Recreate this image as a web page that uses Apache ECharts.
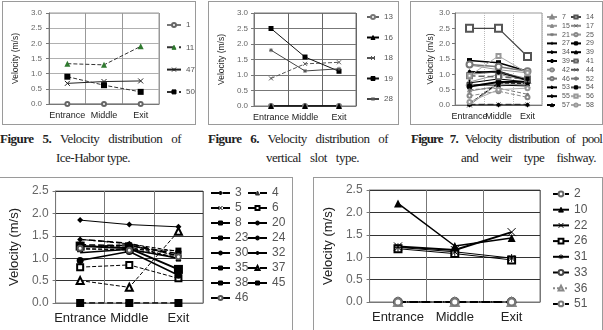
<!DOCTYPE html>
<html>
<head>
<meta charset="utf-8">
<script src="https://cdn.jsdelivr.net/npm/echarts@6/dist/echarts.min.js"></script>
<style>
    html, body {
        margin: 0;
        width: 603px;
        height: 330px;
        overflow: hidden;
        background: #fff;
    }
    .box {
        position: absolute;
        box-sizing: border-box;
        border: 1px solid #9a9a9a;
    }
    .chart {
        position: absolute;
        left: 0; top: 0; right: 0; bottom: 0;
    }
    .cap {
        position: absolute;
        font-family: "Liberation Serif", serif;
        font-size: 13px;
        line-height: 14px;
        letter-spacing: -0.5px;
        color: #222;
        white-space: nowrap;
        text-align: justify;
        text-align-last: justify;
    }
    .cap b { font-weight: bold; }
</style>
</head>
<body>
<div class="box" style="left:2px;top:1px;width:194px;height:124px"><div id="c1" class="chart"></div></div>
<div class="box" style="left:208px;top:1px;width:191px;height:124px"><div id="c2" class="chart"></div></div>
<div class="box" style="left:410px;top:1px;width:193px;height:124px"><div id="c3" class="chart"></div></div>
<div class="box" style="left:-1px;top:177px;width:294px;height:170px"><div id="c4" class="chart"></div></div>
<div class="box" style="left:313px;top:177px;width:290px;height:170px"><div id="c5" class="chart"></div></div>

<div class="cap" style="left:0px;top:132px;width:181px"><b>Figure 5.</b> Velocity distribution of</div>
<div class="cap" style="left:56px;top:151px;width:72px">Ice-Habor type.</div>
<div class="cap" style="left:208px;top:132px;width:180px"><b>Figure 6.</b> Velocity distribution of</div>
<div class="cap" style="left:266px;top:151px;width:93px">vertical slot type.</div>
<div class="cap" style="left:411px;top:132px;width:191px;letter-spacing:-0.8px"><b>Figure 7.</b> Velocity distribution of pool</div>
<div class="cap" style="left:461px;top:151px;width:135px">and weir type fishway.</div>

<script>
var categories = ['Entrance', 'Middle', 'Exit'];

var c1Names = ['1', '11', '47', '50'];
var c1Values = [
    [0, 0, 0],
    [1.33, 1.29, 1.90],
    [0.68, 0.74, 0.76],
    [0.90, 0.62, 0.40]
];

var c2Names = ['13', '16', '18', '19', '28'];
var c2Values = [
    [0, 0, 0],
    [0, 0, 0],
    [0.89, 1.36, 1.41],
    [2.50, 1.58, 1.12],
    [1.80, 1.13, 1.20]
];

// the picture lists "39" twice, the second one carries a trailing space
var c3Names = ['7', '14', '15', '17', '21', '25', '27', '29', '34', '39', '39 ',
    '41', '42', '44', '46', '52', '53', '54', '55', '56', '57', '58'];
var c3Values = [
    [0.75, 1.00, 0.80],
    [2.50, 2.50, 1.58],
    [0.62, 0.75, 0.70],
    [0.00, 0.70, 0.65],
    [0.45, 0.62, 0.68],
    [1.30, 1.15, 1.05],
    [0.72, 0.85, 0.75],
    [1.45, 1.38, 1.10],
    [1.05, 1.10, 0.80],
    [0.65, 0.65, 0.62],
    [0.60, 0.75, 0.76],
    [0.95, 0.92, 0.85],
    [0.30, 0.45, 0.25],
    [0.02, 0.02, 0.02],
    [1.32, 1.25, 1.10],
    [0.50, 0.55, 0.35],
    [1.10, 1.05, 0.82],
    [1.00, 1.08, 0.86],
    [0.00, 0.00, 0.00],
    [0.95, 1.60, 1.05],
    [0.05, 0.72, 0.70],
    [0.10, 0.50, 0.55]
];

var c4Names = ['3', '4', '5', '6', '8', '20', '23', '24', '30', '32', '35', '37', '38', '45', '46'];
var c4Values = [
    [1.42, 1.32, 1.15],
    [1.25, 1.30, 1.05],
    [1.27, 1.25, 1.00],
    [0.80, 0.85, 0.55],
    [1.20, 1.20, 1.17],
    [0.95, 1.15, 0.62],
    [1.30, 1.28, 1.10],
    [1.42, 1.33, 1.05],
    [1.12, 1.20, 1.00],
    [1.85, 1.75, 1.70],
    [1.27, 1.22, 0.75],
    [0.50, 0.35, 1.60],
    [1.25, 1.30, 0.98],
    [0, 0, 0],
    [1.22, 1.18, 1.03]
];

var c5Names = ['2', '10', '22', '26', '31', '33', '36', '51'];
var c5Values = [
    [0, 0, 0],
    [2.20, 1.25, 1.43],
    [1.24, 1.16, 1.56],
    [1.19, 1.08, 0.94],
    [1.22, 1.12, 0.98],
    [0, 0, 0],
    [0, 0, 0],
    [0, 0, 0]
];

var X = 'path://M0,0L10,10M10,0L0,10';
var STAR = 'path://M5,0L5,10M0,5L10,5M1.5,1.5L8.5,8.5M8.5,1.5L1.5,8.5';
var PLUS = 'path://M5,0L5,10M0,5L10,5';

// [symbol, size, marker color, line type, line color, line width]
var c1Styles = [
    ['emptyCircle', 4, '#666', 'solid', '#777', 1],
    ['triangle', 6, '#2f7a2f', 'dashed', '#333', 1],
    [X, 5, '#222', 'solid', '#222', 1],
    ['rect', 6, '#000', 'dashed', '#333', 1]
];
var c2Styles = [
    ['emptyCircle', 4, '#777', 'solid', '#666', 1.5],
    ['triangle', 6, '#000', 'solid', '#000', 1.5],
    [X, 4, '#555', 'dashed', '#555', 1],
    ['rect', 5, '#000', 'solid', '#111', 1],
    [STAR, 4, '#555', 'solid', '#444', 1]
];
var c3Styles = [
    ['emptyTriangle', 5, '#888', 'solid', '#999', 1],
    ['emptyRect', 7, '#555', 'solid', '#444', 1.2],
    ['triangle', 5, '#888', 'solid', '#999', 1],
    [X, 5, '#666', 'solid', '#888', 1],
    [STAR, 5, '#777', 'solid', '#888', 1],
    ['emptyCircle', 4, '#888', 'solid', '#999', 1],
    [PLUS, 6, '#000', 'solid', '#000', 1],
    ['rect', 5, '#000', 'solid', '#000', 1.5],
    ['diamond', 5, '#000', 'solid', '#000', 1.5],
    ['triangle', 5, '#000', 'solid', '#000', 1],
    ['circle', 6, '#000', 'solid', '#000', 2],
    ['emptyRect', 5, '#666', 'dashed', '#666', 1.5],
    ['emptyCircle', 4, '#888', 'dashed', '#888', 1],
    [X, 4, '#555', 'dashed', '#555', 1.5],
    ['emptyCircle', 6, '#777', 'solid', '#777', 1.5],
    ['circle', 3, '#777', 'dashed', '#777', 1],
    ['diamond', 4, '#000', 'solid', '#000', 1],
    ['rect', 4, '#000', 'solid', '#555', 0.8],
    ['diamond', 5, '#000', 'solid', '#000', 1.2],
    ['emptyRect', 4, '#999', 'solid', '#aaa', 1],
    ['triangle', 5, '#000', 'dashed', '#000', 1],
    ['emptyCircle', 4, '#999', 'solid', '#aaa', 1]
];
var c4Styles = [
    ['diamond', 6, '#000', 'dashed', '#000', 1],
    ['triangle', 6, '#333', 'dashed', '#000', 1],
    [X, 5, '#000', 'dashed', '#000', 1],
    ['emptyRect', 6, '#000', 'dashed', '#000', 1],
    ['rect', 6, '#000', 'dashed', '#000', 1],
    ['circle', 7, '#000', 'solid', '#000', 1.5],
    ['rect', 6, '#000', 'dashed', '#000', 1.5],
    ['circle', 2, '#000', 'dashed', '#000', 1.5],
    ['none', 0, '#000', 'solid', '#000', 1.5],
    ['diamond', 6, '#000', 'solid', '#000', 1],
    ['rect', 9, '#000', 'solid', '#000', 2],
    ['emptyTriangle', 7, '#000', 'dashed', '#000', 1],
    ['rect', 5, '#000', 'dashed', '#000', 1],
    ['rect', 8, '#000', 'dashed', '#000', 1.5],
    ['emptyCircle', 5, '#555', 'dashed', '#000', 1]
];
var c5Styles = [
    ['emptyCircle', 7, '#666', 'dashed', '#000', 1.5],
    ['triangle', 8, '#000', 'solid', '#000', 1.5],
    [X, 8, '#000', 'solid', '#000', 2],
    ['emptyRect', 7, '#000', 'solid', '#000', 1],
    [STAR, 8, '#000', 'solid', '#000', 1],
    ['emptyCircle', 8, '#444', 'solid', '#000', 1],
    ['emptyTriangle', 8, '#888', 'dotted', '#888', 1],
    ['emptyCircle', 7, '#777', 'dashed', '#000', 2]
];

function buildSeries(names, values, styles) {
    return names.map(function (name, i) {
        var s = styles[i];
        var isPath = s[0].indexOf('path://') === 0;
        var isEmpty = s[0].indexOf('empty') === 0;
        return {
            name: name,
            type: 'line',
            data: values[i],
            symbol: s[0],
            symbolSize: s[1],
            showAllSymbol: true,
            animation: false,
            itemStyle: {
                color: s[2],
                borderColor: s[2],
                borderWidth: (isPath || isEmpty) ? 1 : 0
            },
            lineStyle: { type: s[3], color: s[4], width: s[5] },
            emphasis: { disabled: true }
        };
    });
}

function evens(arr, odd) {
    return arr.filter(function (n, i) { return i % 2 === (odd ? 1 : 0); });
}

function makeOption(c) {
    var legends = c.legends.map(function (lg) {
        return {
            orient: 'vertical',
            left: lg.left,
            top: lg.top,
            padding: 0,
            data: lg.data,
            itemWidth: c.legendW,
            itemHeight: c.legendH,
            itemGap: c.legendGap,
            itemStyle: { borderWidth: 1 },
            selectedMode: false,
            textStyle: {
                fontSize: c.legendFont, lineHeight: c.legendLine,
                color: '#555', fontFamily: 'Liberation Sans'
            }
        };
    });
    return {
        animation: false,
        grid: {
            left: c.grid[0], top: c.grid[1], width: c.grid[2], height: c.grid[3],
            show: true, borderColor: c.borderColor, borderWidth: 1
        },
        legend: legends,
        xAxis: {
            type: 'category',
            data: categories,
            boundaryGap: true,
            axisTick: { show: false },
            axisLine: { lineStyle: { color: '#777' } },
            axisLabel: {
                fontSize: c.catFont, color: '#222', margin: c.catMargin,
                fontFamily: 'Liberation Sans', interval: 0
            },
            splitLine: { show: true, lineStyle: { color: c.vColor, type: c.vType, width: 1 } }
        },
        yAxis: {
            type: 'value',
            min: 0,
            max: c.yMax,
            interval: 0.5,
            name: 'Velocity (m/s)',
            nameLocation: 'middle',
            nameGap: c.nameGap,
            nameTextStyle: { fontSize: c.nameFont, color: '#222', fontFamily: 'Liberation Sans' },
            axisLine: { show: true, lineStyle: { color: '#777' } },
            axisTick: { show: true, length: 3, lineStyle: { color: '#777' } },
            axisLabel: {
                fontSize: c.tickFont, color: '#666', margin: c.tickMargin,
                fontFamily: 'Liberation Sans',
                formatter: function (v) { return v.toFixed(1); }
            },
            splitLine: { show: c.hColor !== null, lineStyle: { color: c.hColor || '#000', width: 1 } }
        },
        series: buildSeries(c.names, c.values, c.styles)
    };
}

var chart1 = echarts.init(document.getElementById('c1'));
chart1.setOption(makeOption({
    names: c1Names, values: c1Values, styles: c1Styles,
    grid: [42, 11, 114, 91], yMax: 3,
    borderColor: '#999', hColor: '#b0b0b0', vColor: '#999', vType: 'solid',
    catFont: 9, catMargin: 7, tickFont: 8, tickMargin: 7, nameFont: 8.5, nameGap: 26,
    legendW: 14, legendH: 5, legendLine: 10, legendGap: 12.3, legendFont: 8,
    legends: [{ left: 163, top: 18, data: c1Names }]
}));

var chart2 = echarts.init(document.getElementById('c2'));
chart2.setOption(makeOption({
    names: c2Names, values: c2Values, styles: c2Styles,
    grid: [36, 11, 111, 93], yMax: 3,
    borderColor: '#777', hColor: '#777', vColor: '#666', vType: 'solid',
    catFont: 9, catMargin: 7, tickFont: 8, tickMargin: 6, nameFont: 8.5, nameGap: 20,
    legendW: 12, legendH: 5, legendLine: 10, legendGap: 10.5, legendFont: 8,
    legends: [{ left: 157, top: 10, data: c2Names }]
}));

var chart3 = echarts.init(document.getElementById('c3'));
chart3.setOption(makeOption({
    names: c3Names, values: c3Values, styles: c3Styles,
    grid: [31, 11, 100, 92], yMax: 3,
    borderColor: '#999', hColor: null, vColor: '#bbb', vType: 'dotted',
    catFont: 9, catMargin: 7, tickFont: 8, tickMargin: 5, nameFont: 8.5, nameGap: 18,
    legendW: 10, legendH: 4, legendLine: 7, legendGap: 1.8, legendFont: 7,
    legends: [
        { left: 135, top: 11.5, data: evens(c3Names) },
        { left: 159, top: 11.5, data: evens(c3Names, true) }
    ]
}));

var chart4 = echarts.init(document.getElementById('c4'));
chart4.setOption(makeOption({
    names: c4Names, values: c4Values, styles: c4Styles,
    grid: [52, 13, 151, 112], yMax: 2.5,
    borderColor: '#777', hColor: '#333', vColor: '#777', vType: 'solid',
    catFont: 13, catMargin: 9, tickFont: 12, tickMargin: 7, nameFont: 13, nameGap: 28,
    legendW: 19, legendH: 5, legendLine: 12, legendGap: 3, legendFont: 12,
    legends: [
        { left: 210, top: 9, data: evens(c4Names) },
        { left: 247, top: 9, data: evens(c4Names, true) }
    ]
}));

var chart5 = echarts.init(document.getElementById('c5'));
chart5.setOption(makeOption({
    names: c5Names, values: c5Values, styles: c5Styles,
    grid: [54, 12, 172, 112], yMax: 2.5,
    borderColor: '#777', hColor: '#333', vColor: '#777', vType: 'solid',
    catFont: 13, catMargin: 9, tickFont: 12, tickMargin: 7, nameFont: 13, nameGap: 30,
    legendW: 16, legendH: 6, legendLine: 12, legendGap: 3.7, legendFont: 12,
    legends: [{ left: 238, top: 10, data: c5Names }]
}));
</script>
</body>
</html>
